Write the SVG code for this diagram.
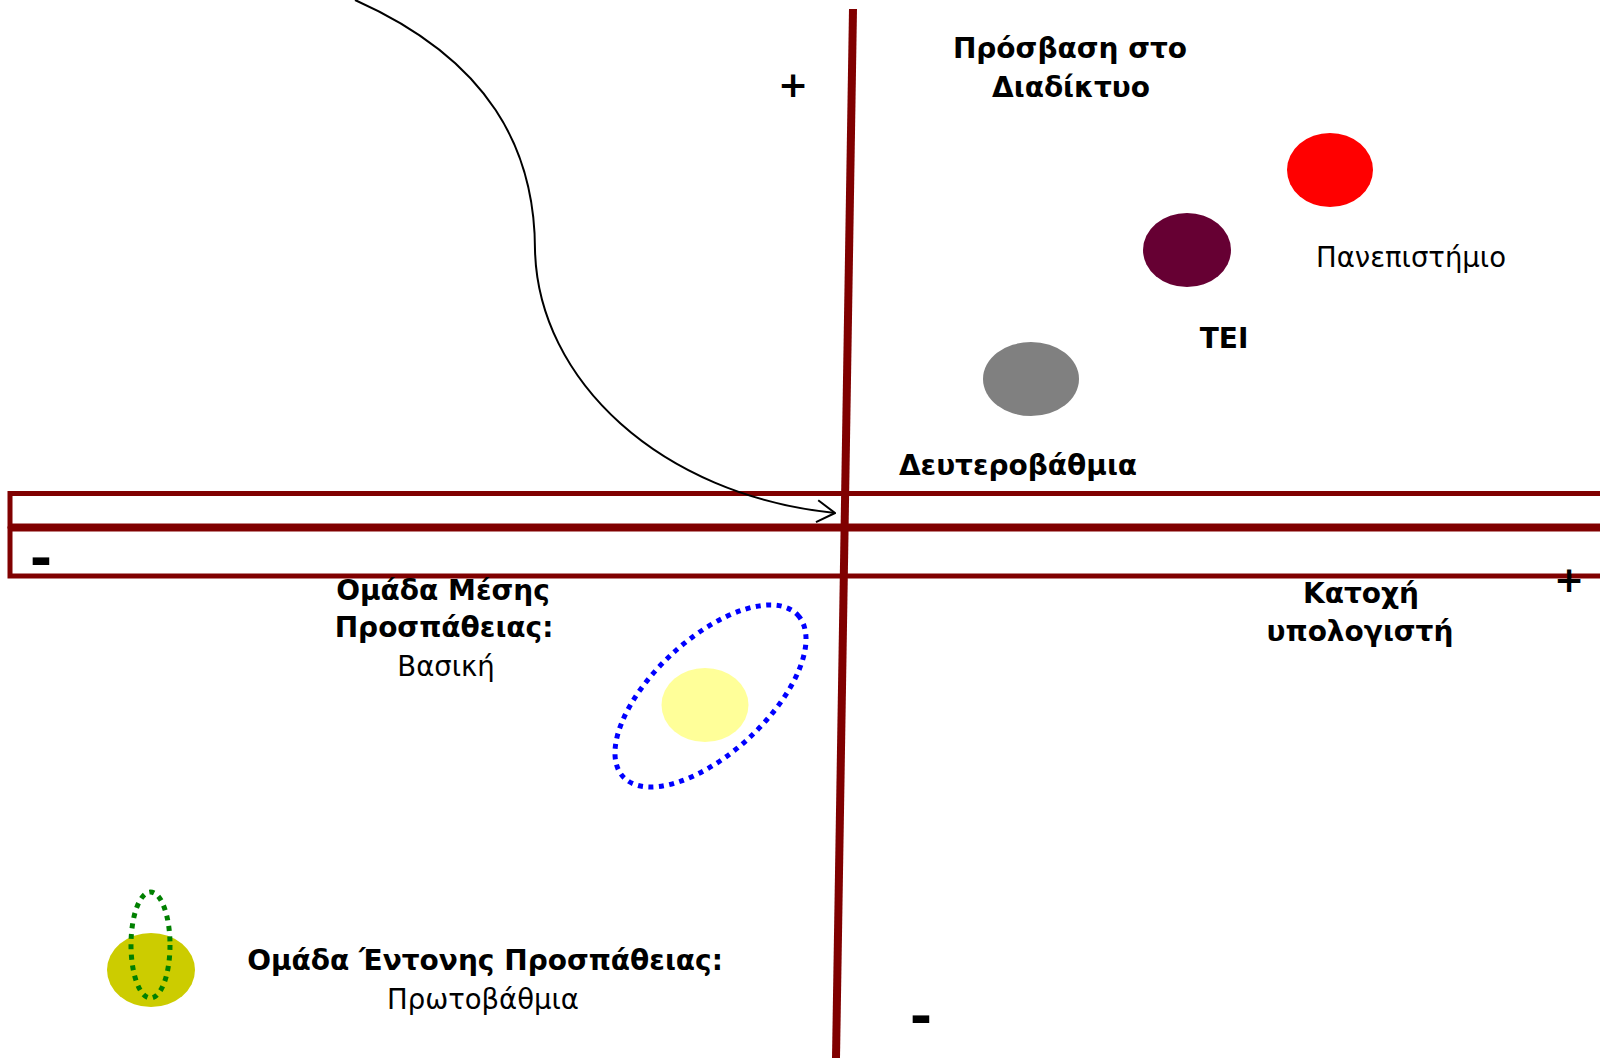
<svg xmlns="http://www.w3.org/2000/svg" width="1600" height="1058" viewBox="0 0 1600 1058">
<style>
  text { font-family: "DejaVu Sans", Tahoma, Verdana, sans-serif; fill: #000; text-anchor: middle; }
  .b { font-weight: bold; font-size: 28px; }
  .n { font-weight: normal; font-size: 27.5px; }
  .axis { fill: none; stroke: #800000; }
  .sign { font-weight: bold; font-size: 36px; }
  .dash { font-weight: bold; font-size: 54px; }
</style>
<defs>
  <marker id="open" viewBox="0 0 20 24" refX="19" refY="12" markerWidth="20" markerHeight="24" markerUnits="userSpaceOnUse" orient="auto">
    <path d="M1,1 L19,12 L1,23" fill="none" stroke="#000" stroke-width="2"/>
  </marker>
</defs>
<rect width="1600" height="1058" fill="#fff"/>

<g id="axes">
  <rect class="axis" x="10" y="493.5" width="1610" height="32.5" stroke-width="5"/>
  <rect class="axis" x="10" y="529" width="1610" height="47" stroke-width="5"/>
  <line class="axis" x1="853" y1="9" x2="836" y2="1058" stroke-width="8"/>
</g>

<g id="connectors">
  <path d="M355,0 C490,60 535,150 535,250 C538,380 660,495 835,513" fill="none" stroke="#000" stroke-width="2" marker-end="url(#open)"/>
</g>

<g id="signs">
  <text class="sign" x="793" y="97">+</text>
  <text class="sign" x="1569" y="592">+</text>
  <text class="dash" x="41" y="577">-</text>
  <text class="dash" x="921" y="1035">-</text>
</g>

<g id="axis-y-label">
  <text class="b" x="1070" y="58">Πρόσβαση στο</text>
  <text class="b" x="1071" y="97">Διαδίκτυο</text>
</g>
<g id="axis-x-label">
  <text class="b" x="1361" y="603">Κατοχή</text>
  <text class="b" x="1360" y="641">υπολογιστή</text>
</g>

<g id="node-university">
  <ellipse cx="1330" cy="170" rx="43" ry="37" fill="#ff0000"/>
  <text class="n" x="1411" y="267">Πανεπιστήμιο</text>
</g>
<g id="node-tei">
  <ellipse cx="1187" cy="250" rx="44" ry="37" fill="#660033"/>
  <text class="b" x="1224" y="348">TEI</text>
</g>
<g id="node-secondary">
  <ellipse cx="1031" cy="379" rx="48" ry="37" fill="#808080"/>
  <text class="b" x="1018" y="475">Δευτεροβάθμια</text>
</g>
<g id="node-medium">
  <ellipse cx="705" cy="705" rx="43.5" ry="37" fill="#ffff99"/>
  <ellipse cx="710.5" cy="696" rx="119" ry="57" transform="rotate(-42.8 710.5 696)" fill="none" stroke="#0000ff" stroke-width="5" stroke-dasharray="5 5.5"/>
  <text class="b" x="443" y="600">Ομάδα Μέσης</text>
  <text class="b" x="444" y="637">Προσπάθειας:</text>
  <text class="n" x="446" y="676">Βασική</text>
</g>
<g id="node-intense">
  <ellipse cx="151" cy="970" rx="44" ry="37" fill="#cccc00"/>
  <ellipse cx="150.5" cy="945" rx="19.5" ry="53" fill="none" stroke="#008000" stroke-width="5" stroke-dasharray="5 5.5"/>
  <text class="b" x="485" y="970">Ομάδα Έντονης Προσπάθειας:</text>
  <text class="n" x="483" y="1009">Πρωτοβάθμια</text>
</g>
</svg>
